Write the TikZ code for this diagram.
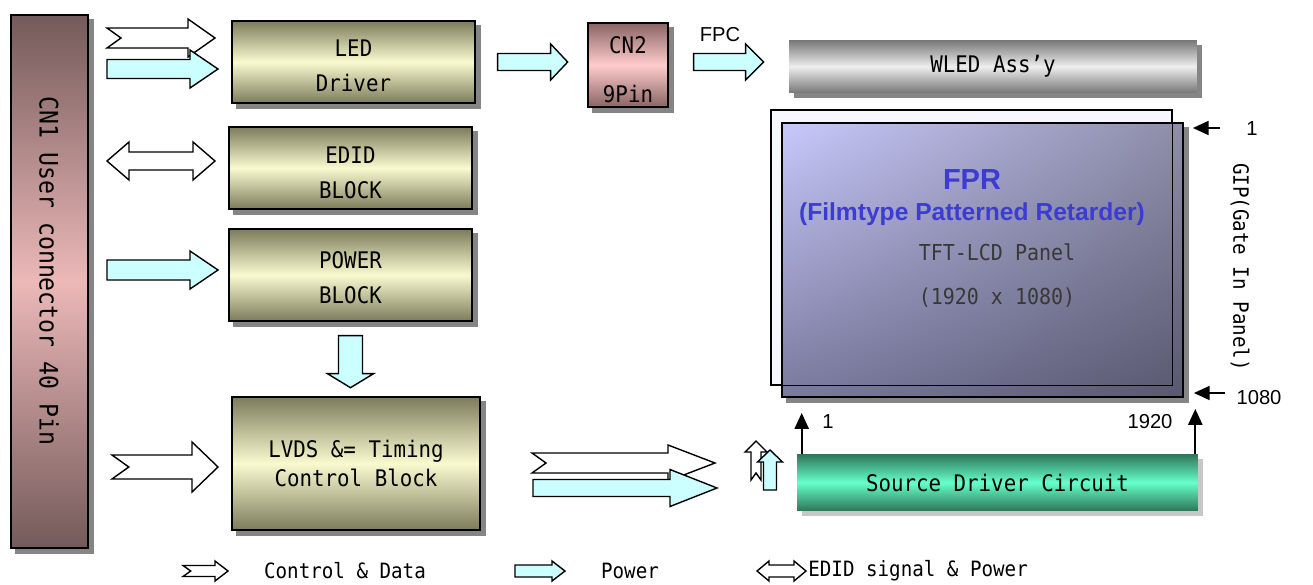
\documentclass[tikz,border=0pt]{standalone}
\usepackage{fontspec}
\setmainfont{Liberation Sans}
\newfontfamily\gulimfont[FakeStretch=0.91]{DejaVu Sans Mono}
\usetikzlibrary{arrows.meta, shadings, calc, backgrounds}
\definecolor{boxdark}{HTML}{7C7C5C}
\definecolor{boxlight}{HTML}{FAFAD0}
\definecolor{cnedge}{HTML}{745A5A}
\definecolor{cnmid}{HTML}{ECB8B8}
\definecolor{cntwoedge}{HTML}{8A6464}
\definecolor{cntwomid}{HTML}{FFCCCC}
\definecolor{wleddark}{HTML}{767676}
\definecolor{wledlight}{HTML}{EEEEEE}
\definecolor{sdcdark}{HTML}{2E7558}
\definecolor{sdclight}{HTML}{66FFCC}
\definecolor{arrowcyan}{HTML}{CCFFFF}
\definecolor{fprblue}{HTML}{3C3CD2}
\definecolor{panelul}{HTML}{C8C8FC}
\definecolor{panelur}{HTML}{8E8EAA}
\definecolor{panelll}{HTML}{7A7A9E}
\definecolor{panellr}{HTML}{585870}

\begin{document}
\begin{tikzpicture}[x=0.02cm, y=-0.02cm,
  shadowfill/.style={fill=black!48},
  block/.style={draw=black, thick, inner sep=0pt,
                top color=boxdark, bottom color=boxdark, middle color=boxlight,
                minimum width=4.86cm, minimum height=1.64cm,
                font=\gulimfont\fontsize{13}{20}\selectfont, align=center},
  connblock/.style={draw=black, thick, inner sep=0pt,
                top color=cntwoedge, bottom color=cntwoedge, middle color=cntwomid,
                font=\gulimfont\fontsize{13}{28}\selectfont, align=center},
  barblock/.style={draw=none, inner sep=0pt, minimum width=8.16cm,
                font=\gulimfont\fontsize{13}{16}\selectfont},
  label/.style={font=\fontsize{11.5}{13}\selectfont},
  legendtext/.style={font=\gulimfont\fontsize{12}{14}\selectfont},
  thinarrow/.style={-{Triangle[length=9pt,width=8pt]}, line width=1.1pt},
  ctrlbody/.style={draw=black, thick, fill=white},
  pwrbody/.style={draw=black, thick, fill=arrowcyan},
  pics/ctrlarrow/.style n args={4}{code={
    \path[ctrlbody] (0,-#4) -- ({#1-#2},-#4) -- ({#1-#2},-#3) -- (#1,0)
      -- ({#1-#2},#3) -- ({#1-#2},#4) -- (0,#4) -- ({1.4*#4},0) -- cycle;}},
  pics/pwrarrow/.style n args={4}{code={
    \path[pwrbody] (0,-#4) -- ({#1-#2},-#4) -- ({#1-#2},-#3) -- (#1,0)
      -- ({#1-#2},#3) -- ({#1-#2},#4) -- (0,#4) -- cycle;}},
  pics/bidirarrow/.style n args={4}{code={
    \path[ctrlbody] (0,0) -- (#2,-#3) -- (#2,-#4) -- ({#1-#2},-#4) -- ({#1-#2},-#3)
      -- (#1,0) -- ({#1-#2},#3) -- ({#1-#2},#4) -- (#2,#4) -- (#2,#3) -- cycle;}},
]
  \useasboundingbox (0,0) rectangle (1313,585);

  % User connector
  \node[draw=black, thick, top color=cnedge, bottom color=cnedge, middle color=cnmid,
        minimum width=1.54cm, minimum height=10.66cm] (cn1) at (49.5,281.5) {};
  \node[rotate=-90, font=\gulimfont\fontsize{14.5}{16}\selectfont] (cn1text) at (49,271)
        {CN1 User connector 40 Pin};

  % Blocks
  \node[block, text height=34pt] (led) at (353.5,62) {LED\\Driver};
  \node[block, text height=35pt] (edid) at (350.5,168) {EDID\\BLOCK};
  \node[block, text height=33pt, minimum height=1.84cm] (power) at (350.5,275) {POWER\\BLOCK};
  \node[block, minimum width=4.96cm, minimum height=2.66cm,
        font=\gulimfont\fontsize{13}{16}\selectfont] (lvds) at (356,463.5)
        {LVDS \&= Timing\\Control Block};
  \node[connblock, text height=43pt, minimum width=1.6cm, minimum height=1.68cm] (cn2)
        at (628,65) {CN2\\9Pin};
  \node[barblock, top color=wleddark, bottom color=wleddark, middle color=wledlight,
        minimum height=1.06cm] (wled) at (993,66.5) {\raisebox{-2pt}{WLED Ass’y}};

  % Panel
  \node[draw=black, line width=0.6pt, fill=blue!3, minimum width=8.02cm,
        minimum height=5.5cm] (back) at (971.5,247.5) {};
  \node[draw=black, line width=1.1pt, upper left=panelul, upper right=panelur,
        lower left=panelll, lower right=panellr,
        minimum width=8.02cm, minimum height=5.48cm] (panel) at (982.5,260) {};
  \draw[line width=0.6pt] (back.north west) rectangle (back.south east);
  \node[font=\bfseries\fontsize{16.5}{18}\selectfont, text=fprblue] (fpr) at (972,180) {FPR};
  \node[font=\bfseries\fontsize{14}{16}\selectfont, text=fprblue] (fprsub) at (972,214)
        {(Filmtype Patterned Retarder)};
  \node[font=\gulimfont\fontsize{12.5}{14}\selectfont, text=black!78] (tft) at (997,252)
        {TFT-LCD Panel};
  \node[font=\gulimfont\fontsize{12.5}{14}\selectfont, text=black!78] (res) at (997,298)
        {(1920 x 1080)};

  % Source driver
  \node[barblock, top color=sdcdark, bottom color=sdcdark, middle color=sdclight,
        minimum height=1.14cm, minimum width=8.02cm]
        (sdc) at (997.5,482.5) {\raisebox{-4pt}{Source Driver Circuit}};

  % Shadows
  \begin{scope}[on background layer]
    \foreach \n in {cn1,led,edid,power,lvds,cn2,wled,panel}
      \fill[shadowfill] ([shift={(5,5)}]\n.north west) rectangle ([shift={(5,5)}]\n.south east);
    \fill[shadowfill, fill=black!22] ([shift={(5,5)}]sdc.north west)
      rectangle ([shift={(5,5)}]sdc.south east);
  \end{scope}

  % Labels
  \node[label] (fpc) at (720,35) {FPC};
  \node[label] (g1) at (1252,129) {1};
  \node[label] (g1080) at (1259,398) {1080};
  \node[rotate=-90, font=\gulimfont\fontsize{12}{14}\selectfont] (gip) at (1240,267)
        {GIP(Gate In Panel)};
  \node[label] (s1) at (828,422) {1};
  \node[label] (s1920) at (1150,422) {1920};

  % Thin arrows
  \draw[thinarrow] ([xshift=0.1cm]sdc.north west)
    -- ([xshift=0.1cm, yshift=-0.3cm]sdc.north west |- panel.south);
  \draw[thinarrow] ([xshift=-0.06cm]sdc.north east)
    -- ([xshift=-0.06cm, yshift=-0.22cm]sdc.north east |- panel.south);
  \draw[thinarrow, shorten >=0.18cm] ([xshift=-0.4cm, yshift=0.02cm]g1.west)
    -- ([yshift=0.02cm]g1.west -| panel.east);
  \draw[thinarrow, shorten >=0.2cm] ([xshift=-0.1cm, yshift=0.1cm]g1080.west)
    -- ([yshift=0.1cm]g1080.west -| panel.east);

  % Block arrows from connector
  \pic at (107,38) {ctrlarrow={108}{27}{19}{10}};
  \pic at (107,69) {pwrarrow={111}{28}{19}{9.5}};
  \pic at (107,161) {bidirarrow={108}{22}{19}{9}};
  \pic at (107,270) {pwrarrow={111}{28}{19}{10}};
  \pic at (112,467) {ctrlarrow={106}{26}{25}{12}};

  % Block arrows between blocks
  \pic at ($(led.east)+(22,0)$) {pwrarrow={70}{17}{18}{8.5}};
  \pic at ($(cn2.east)+(25,-3)$) {pwrarrow={70}{18}{18}{8.5}};
  \pic[rotate=-90] at ($(power.south)+(0,14)$) {pwrarrow={52}{14}{23}{12}};
  \pic at (532,463) {ctrlarrow={183}{47}{18}{10}};
  \pic at (533,488) {pwrarrow={184}{47}{18.5}{8.5}};
  \pic[rotate=90] at (756,480) {ctrlarrow={39}{11}{11}{5}};
  \pic[rotate=90] at (770,490) {pwrarrow={40}{12}{12.5}{6.5}};

  % Legend
  \pic at (183,571) {ctrlarrow={45}{13}{10}{5.5}};
  \node[legendtext] (lgctrl) at (345,571) {Control \& Data};
  \pic at (515,571) {pwrarrow={50}{13}{10}{6}};
  \node[legendtext] (lgpwr) at (630,571) {Power};
  \pic at (757,571) {bidirarrow={49}{12}{10}{6}};
  \node[legendtext, anchor=west, inner sep=0pt] (lgedid) at (808,571) {EDID signal \& Power};
\end{tikzpicture}
\end{document}
